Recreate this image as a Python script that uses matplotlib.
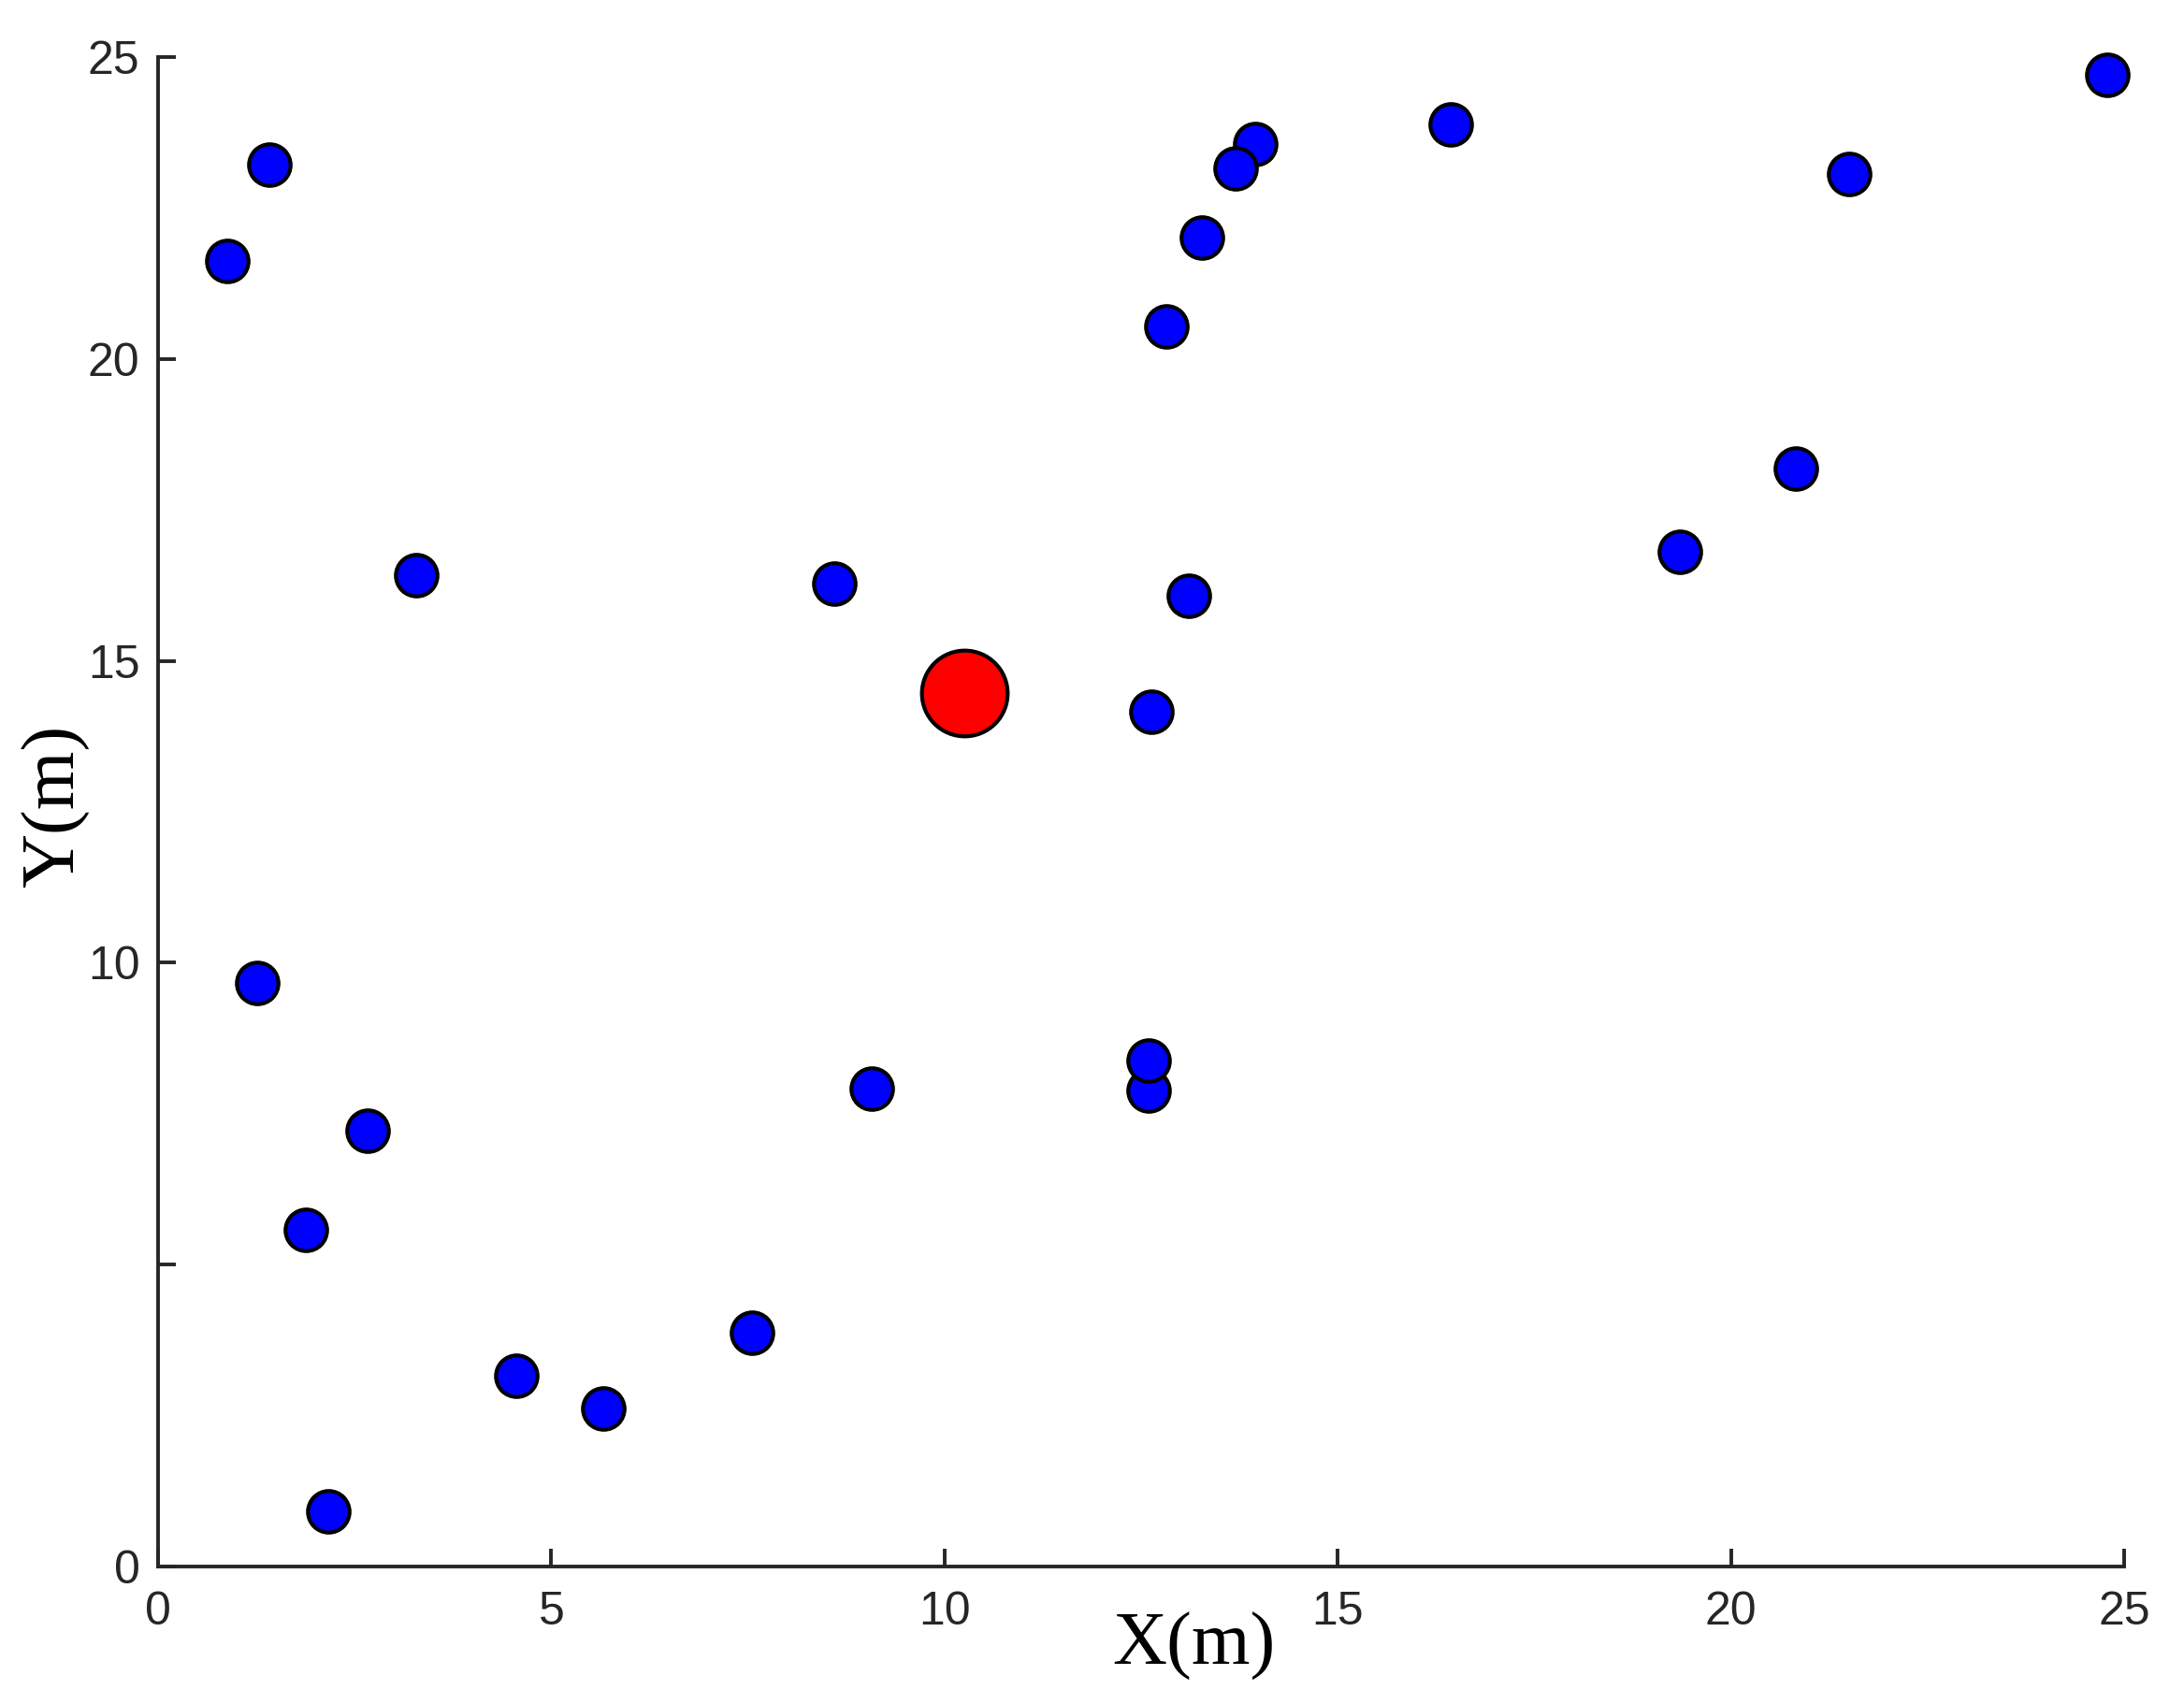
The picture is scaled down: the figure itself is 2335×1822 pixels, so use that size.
import matplotlib
matplotlib.use("Agg")
import matplotlib.pyplot as plt

# Blue node coordinates (m)
node_x = [1.42, 0.88, 3.28, 8.60, 1.26, 9.08, 2.66, 1.88, 7.55, 4.56, 5.66, 2.16,
          12.60, 12.60, 12.63, 13.11, 12.82, 13.27, 13.95, 13.70, 16.44,
          19.35, 20.83, 21.50, 24.78]
node_y = [23.22, 21.62, 16.42, 16.28, 9.66, 7.91, 7.22, 5.58, 3.87, 3.16, 2.61, 0.92,
          7.88, 8.38, 14.16, 16.08, 20.54, 22.01, 23.56, 23.16, 23.88,
          16.81, 18.19, 23.06, 24.70]
# Red centre point
center_x = [10.25]
center_y = [14.46]

xticks = [0, 5, 10, 15, 20, 25]
xticklabels = ['0', '5', '10', '15', '20', '25']
yticks = [0, 5, 10, 15, 20, 25]
yticklabels = ['0', '', '10', '15', '20', '25']

W, H, DPI = 2335, 1822, 100
fig = plt.figure(figsize=(W / DPI, H / DPI), dpi=DPI)
ax = fig.add_axes([169 / W, 1 - 1675 / H, (2271 - 169) / W, (1675 - 61) / H])

for x, y in zip(node_x, node_y):
    ax.plot(x, y, 'o', ms=32, mfc=(0, 0, 1), mec='black', mew=3.0, clip_on=False)
ax.plot(center_x, center_y, 'o', ms=66, mfc=(1, 0, 0), mec='black', mew=3.0, clip_on=False)

ax.set_xlim(0, 25)
ax.set_ylim(0, 25)
ax.set_xticks(xticks)
ax.set_xticklabels(xticklabels)
ax.set_yticks(yticks)
ax.set_yticklabels(yticklabels)

for s in ['top', 'right']:
    ax.spines[s].set_visible(False)
for s in ['left', 'bottom']:
    ax.spines[s].set_color('#262626')
    ax.spines[s].set_linewidth(2.8)

ax.tick_params(axis='both', direction='in', length=14, width=2.8, color='#262626',
               labelcolor='#262626', labelsize=36)
ax.tick_params(axis='x', pad=19)
ax.tick_params(axis='y', pad=14)
for lab in ax.get_xticklabels() + ax.get_yticklabels():
    lab.set_family('Liberation Sans')

ax.set_xlabel('X(m)', fontfamily='Liberation Serif', fontsize=58, color='black')
ax.set_ylabel('Y(m)', fontfamily='Liberation Serif', fontsize=58, color='black')
ax.xaxis.set_label_coords(0.527, -0.053)
ax.yaxis.set_label_coords(-0.052, 0.504)
ax.xaxis.label.set_verticalalignment('center')
ax.yaxis.label.set_verticalalignment('center')

fig.savefig('out.png', dpi=DPI, facecolor='white')
